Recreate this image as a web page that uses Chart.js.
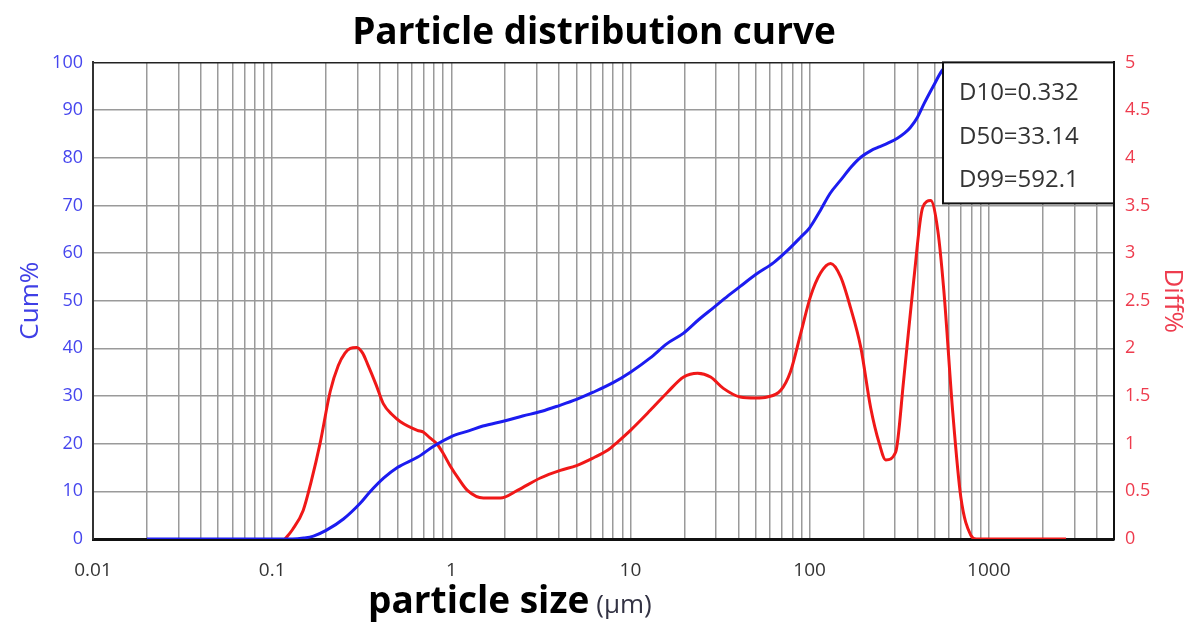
<!DOCTYPE html>
<html>
<head>
<meta charset="utf-8">
<script src="https://cdn.jsdelivr.net/npm/chart.js@4/dist/chart.umd.min.js"></script>
<style>
  html, body { margin: 0; padding: 0; background: #fff; }
  #wrap { width: 1188px; height: 623px; }
</style>
</head>
<body>
<div id="wrap"><canvas id="c" width="1188" height="623"></canvas></div>
<script>
// ---- data ----
const sizeCum = [0.02, 0.05, 0.1, 0.13, 0.15, 0.17, 0.2, 0.25, 0.31, 0.35, 0.42, 0.5, 0.65, 0.8, 1.0, 1.25, 1.5, 2.0, 2.5, 3.2, 4.0, 5.0, 6.2, 8, 10, 12.9, 16, 19.8, 24, 29, 35, 41, 50, 63, 75, 89, 100, 115, 130, 149, 170, 193, 220, 242, 275, 309, 340, 366, 400, 436, 490, 549, 592];
const cumValues = [0, 0, 0, 0, 0.2, 0.6, 1.8, 4.2, 7.5, 9.8, 12.8, 15, 17.2, 19.5, 21.5, 22.7, 23.7, 24.8, 25.8, 26.8, 28, 29.3, 30.8, 32.8, 35, 38, 41, 43.2, 46, 48.5, 51, 53, 55.5, 58, 60.5, 63.3, 65.3, 69, 72.5, 75.3, 78, 80.1, 81.5, 82.2, 83.1, 84.1, 85.2, 86.4, 88.5, 91.4, 95, 98.3, 99.4];

const sizeDiff = [0.118, 0.13, 0.149, 0.165, 0.185, 0.211, 0.234, 0.255, 0.273, 0.296, 0.32, 0.34, 0.38, 0.417, 0.47, 0.52, 0.646, 0.70, 0.76, 0.83, 0.9, 0.99, 1.1, 1.23, 1.51, 1.88, 2.34, 3.14, 4.06, 5.0, 6.2, 7.45, 8.5, 10, 12.9, 16.1, 19.8, 23.7, 28, 33, 41, 50, 58, 69, 78, 89, 101, 115, 131, 149, 169, 193, 219, 245, 266, 302, 335, 381, 428, 474, 519, 561, 630, 698, 793, 850, 1200, 2700];
const diffValues = [0, 0.1, 0.3, 0.6, 1.0, 1.55, 1.82, 1.95, 2.0, 2.01, 1.95, 1.84, 1.62, 1.42, 1.3, 1.23, 1.14, 1.12, 1.06, 1.0, 0.9, 0.76, 0.63, 0.51, 0.43, 0.43, 0.51, 0.64, 0.72, 0.77, 0.85, 0.93, 1.02, 1.14, 1.35, 1.54, 1.70, 1.74, 1.70, 1.58, 1.49, 1.48, 1.49, 1.56, 1.75, 2.15, 2.54, 2.79, 2.89, 2.75, 2.43, 2.01, 1.38, 1.0, 0.83, 0.91, 1.67, 2.71, 3.48, 3.55, 3.24, 2.61, 1.32, 0.44, 0.04, 0, 0, 0];

const xTickLabels = ['0.01', '0.1', '1', '10', '100', '1000'];
const statLabels = ['D10=0.332', 'D50=33.14', 'D99=592.1'];
const chartTitle = 'Particle distribution curve';
const xTitleMain = 'particle size';
const xTitleUnit = '(\u03bcm)';

// ---- build ----
const cumPoints = sizeCum.map((s, i) => ({ x: s, y: cumValues[i] }));
const diffPoints = sizeDiff.map((s, i) => ({ x: s, y: diffValues[i] }));

const GRID = '#9a9a9a';

const extraText = {
  id: 'extraText',
  afterDraw(chart) {
    const { ctx, chartArea } = chart;
    ctx.save();
    // stats box
    const bw = 171, bh = 141;
    const bx = chartArea.right - bw, by = chartArea.top;
    ctx.fillStyle = '#fff';
    ctx.fillRect(bx, by, bw, bh);
    ctx.strokeStyle = '#111';
    ctx.lineWidth = 2;
    ctx.strokeRect(bx, by, bw, bh);
    ctx.fillStyle = '#333';
    ctx.font = '24px "Open Sans"';
    ctx.textBaseline = 'middle';
    ctx.textAlign = 'left';
    statLabels.forEach((t, i) => ctx.fillText(t, bx + 16, by + 31 + i * 43.5));
    // x-axis title
    ctx.textBaseline = 'alphabetic';
    ctx.fillStyle = '#000';
    ctx.font = 'bold 37px "Open Sans"';
    const x0 = chartArea.left + 275;
    const yb = chartArea.bottom + 74;
    ctx.fillText(xTitleMain, x0, yb);
    const w = ctx.measureText(xTitleMain).width;
    ctx.fillStyle = '#333344';
    ctx.font = '26px "Open Sans"';
    ctx.fillText(xTitleUnit, x0 + w + 7, yb);
    ctx.restore();
  }
};

new Chart(document.getElementById('c'), {
  type: 'line',
  data: {
    datasets: [
      {
        label: 'Cum%', data: cumPoints, yAxisID: 'yCum',
        borderColor: '#1c1cf0', borderWidth: 3, pointRadius: 0,
        cubicInterpolationMode: 'monotone', fill: false
      },
      {
        label: 'Diff%', data: diffPoints, yAxisID: 'yDiff',
        borderColor: '#f01818', borderWidth: 3, pointRadius: 0,
        cubicInterpolationMode: 'monotone', fill: false
      }
    ]
  },
  options: {
    responsive: false,
    animation: false,
    layout: { padding: 0 },
    plugins: {
      legend: { display: false },
      tooltip: { enabled: false },
      title: {
        display: true, text: chartTitle, color: '#000',
        font: { family: 'Open Sans', size: 37, weight: 'bold' },
        padding: { top: 11, bottom: 7 }
      }
    },
    scales: {
      x: {
        type: 'logarithmic', min: 0.01, max: 5000, position: 'bottom',
        afterBuildTicks(scale) {
          const t = [];
          for (let e = -2; e <= 3; e++) {
            for (let m = 1; m <= 9; m++) {
              const v = +(m * Math.pow(10, e)).toPrecision(6);
              if (v <= 5000) t.push({ value: v });
            }
          }
          scale.ticks = t;
        },
        afterFit(scale) { scale.height = 84; },
        ticks: {
          autoSkip: false, maxRotation: 0, minRotation: 0, padding: 20,
          color: '#333', font: { family: 'Open Sans', size: 19 },
          callback(value) {
            const l = xTickLabels.find(s => Math.abs(parseFloat(s) - value) < 1e-9);
            return l || '';
          }
        },
        grid: { color: GRID, lineWidth: 1.5, drawTicks: false },
        border: { display: true, color: '#111', width: 3 }
      },
      yCum: {
        type: 'linear', position: 'left', min: 0, max: 100,
        afterFit(scale) { scale.width = 93; },
        ticks: {
          stepSize: 10, padding: 10, color: '#4646ee',
          font: { family: 'Open Sans', size: 18 }
        },
        grid: {
          drawTicks: false, lineWidth: 1.5,
          color: (c) => (c.tick && (c.tick.value === 100 || c.tick.value === 0)) ? '#222' : GRID
        },
        border: { display: true, color: '#333', width: 2 },
        title: {
          display: true, text: 'Cum%', color: '#3f3fe6',
          font: { family: 'Open Sans', size: 26 },
          padding: { top: 15, bottom: 0 }
        }
      },
      yDiff: {
        type: 'linear', position: 'right', min: 0, max: 5,
        afterFit(scale) { scale.width = 74; },
        ticks: {
          stepSize: 0.5, padding: 11, color: '#ee3c4e',
          font: { family: 'Open Sans', size: 18 },
          callback: (v) => String(+v.toFixed(1))
        },
        grid: { drawOnChartArea: false, drawTicks: false },
        border: { display: true, color: '#111', width: 2 },
        title: {
          display: true, text: 'Diff%', color: '#ee3c4e',
          font: { family: 'Open Sans', size: 26 },
          padding: { top: 0, bottom: 0 }
        }
      }
    }
  },
  plugins: [extraText]
});
</script>
</body>
</html>
